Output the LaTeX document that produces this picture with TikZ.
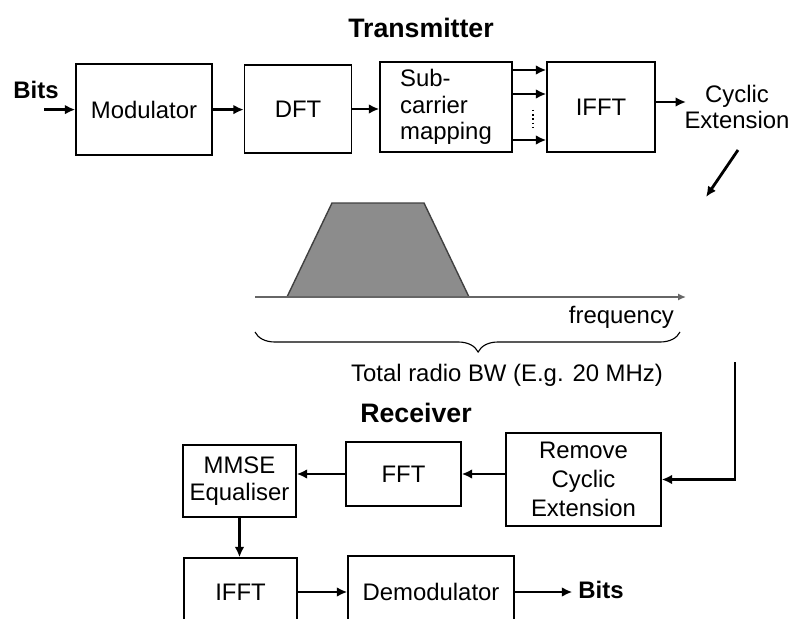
\documentclass[tikz,border=0pt]{standalone}
\usepackage{fontspec}
\setmainfont{Liberation Sans}
\usetikzlibrary{arrows.meta,decorations.pathreplacing}

\begin{document}
\begin{tikzpicture}[line width=2pt,>={Latex[length=2.6mm,width=2.4mm]},
  font=\fontsize{17}{19}\selectfont,
  box/.style={draw,line width=1pt,inner sep=0pt,align=center},
  ttl/.style={font=\fontsize{19}{22}\selectfont\bfseries}]
  \useasboundingbox (0,0) rectangle (20,-15.475);
  % transmitter
  \node[ttl] (tx) at (10.525,-0.7){Transmitter};
  \node[font=\fontsize{17}{19}\selectfont\bfseries] (bitsin) at (0.9,-2.25){Bits};
  \coordinate (bitsinend) at (1.1,-2.74);
  \node[box,minimum width=3.4cm,minimum height=2.275cm] (mod) at (3.6,-2.74){Modulator};
  \node[box,minimum width=2.675cm,minimum height=2.2cm] (dft) at (7.45,-2.725){DFT};
  \node[box,minimum width=3.3cm,minimum height=2.25cm,align=left] (scm) at (11.15,-2.675){Sub-\\carrier\\mapping};
  \node[box,minimum width=2.7cm,minimum height=2.25cm] (ifft) at (15.025,-2.675){IFFT};
  \node[align=center,inner sep=0pt] (cyc) at (18.425,-2.675){Cyclic\\Extension};
  \coordinate (cycin) at (17.15,-2.55);
  \draw[->] (bitsinend) -- (mod);
  \draw[->] (mod.east) -- (mod.east -| dft.west);
  \draw[->] (dft.east) -- (dft.east -| scm.west);
  \foreach \yy in {-1.75,-2.35,-3.5}
    \draw[->] (scm.east |- 0,\yy) -- (ifft.west |- 0,\yy);
  \draw[dotted,line width=1pt] (13.325,-2.75) -- (13.325,-3.25);
  \draw[->] (ifft.east |- cycin) -- (cycin);
  \coordinate (d1) at (18.45,-3.75); \coordinate (d2) at (17.65,-4.925);
  \draw[->] (d1) -- (d2);
  % spectrum
  \coordinate (f0) at (6.375,-7.425); \coordinate (f1) at (17.15,-7.425);
  \fill[black!45] (7.175,-7.425)--(8.3,-5.075)--(10.6,-5.075)--(11.725,-7.425)--cycle;
  \draw[black!75,line width=1pt] (7.175,-7.425)--(8.3,-5.075)--(10.6,-5.075)--(11.725,-7.425)--cycle;
  \draw[->,black!60,line width=1.2pt,>={Latex[length=2mm,width=1.8mm]}] (f0) -- (f1);
  \node[anchor=east] (freq) at (17.0,-7.925){frequency};
  \draw[decorate,decoration={brace,mirror,amplitude=0.5cm,aspect=0.525},line width=0.8pt] (6.375,-8.3) -- (17.0,-8.3);
  \node (bw) at (12.675,-9.375){Total radio BW (E.g. 20 MHz)};
  % receiver
  \node[ttl] (rx) at (10.4,-10.325){Receiver};
  \node[box,minimum width=3.875cm,minimum height=2.325cm,font=\fontsize{17}{20.5}\selectfont] (rmv) at (14.5875,-11.9875){Remove\\Cyclic\\Extension};
  \node[box,minimum width=2.875cm,minimum height=1.6cm] (fft) at (10.0875,-11.85){FFT};
  \node[box,minimum width=2.825cm,minimum height=1.8cm] (mmse) at (5.9875,-12.025){MMSE\\Equaliser};
  \node[box,minimum width=2.825cm,minimum height=1.7cm] (ifftr) at (6.0125,-14.8){IFFT};
  \node[box,minimum width=4.15cm,minimum height=1.8cm] (demod) at (10.775,-14.8){Demodulator};
  \node[font=\fontsize{17}{19}\selectfont\bfseries] (bitsout) at (15.025,-14.75){Bits};
  \coordinate (rxin) at (18.375,-9.05);
  \draw[->] (rxin) |- (rmv);
  \draw[->] (rmv.west |- fft) -- (fft);
  \draw[->] (fft) -- (mmse.east |- fft);
  \draw[->] (mmse.south) -- (mmse.south |- ifftr.north);
  \draw[->] (ifftr) -- (demod);
  \draw[->] (demod.east) -- (demod.east -| bitsout.west);
\end{tikzpicture}
\end{document}
